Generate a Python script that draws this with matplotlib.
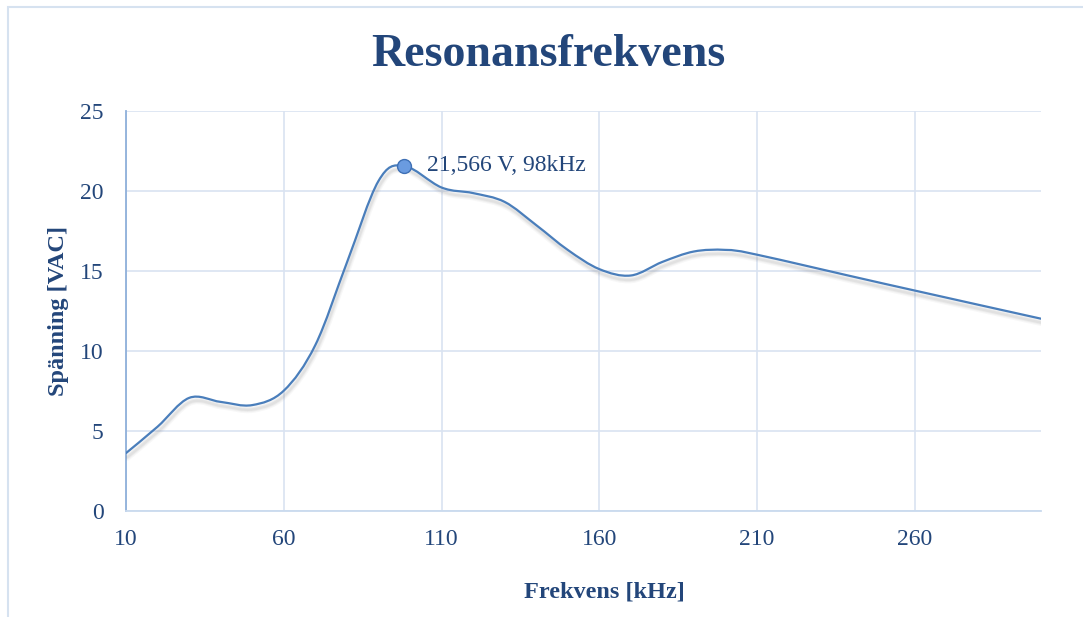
import matplotlib
matplotlib.use("Agg")
import matplotlib.pyplot as plt
import matplotlib.patheffects as pe
from matplotlib.path import Path
from matplotlib.patches import PathPatch, Rectangle

# measured voltage vs frequency
freq_khz = [10, 20, 30, 40, 50, 60, 70, 80, 90, 98, 110, 120, 130, 140,
            150, 160, 170, 180, 190, 200, 210, 250, 300]
voltage = [3.6, 5.25, 7.05, 6.8, 6.6, 7.5, 10.35, 15.5, 20.6, 21.566, 20.2,
           19.85, 19.3, 17.85, 16.3, 15.1, 14.7, 15.55, 16.2, 16.3, 16.0,
           14.2, 12.0]
peak_f, peak_v = 98, 21.566
peak_label = "21,566 V, 98kHz"
xticks = [10, 60, 110, 160, 210, 260]
yticks = [0, 5, 10, 15, 20, 25]

TXT = "#23467A"
LINE = "#4A7EBB"
GRID = "#D9E3F1"
plt.rcParams["font.family"] = ["Liberation Serif", "DejaVu Serif"]


def smooth_path(xs, ys, t=1/6):
    """Excel-style smoothed line as cubic Bezier segments."""
    verts = [(xs[0], ys[0])]
    codes = [Path.MOVETO]
    n = len(xs)
    for i in range(n - 1):
        x0, y0 = (xs[i - 1], ys[i - 1]) if i > 0 else (xs[i], ys[i])
        x1, y1 = xs[i], ys[i]
        x2, y2 = xs[i + 1], ys[i + 1]
        x3, y3 = (xs[i + 2], ys[i + 2]) if i + 2 < n else (x2, y2)
        c1 = (x1 + (x2 - x0) * t, y1 + (y2 - y0) * t)
        c2 = (x2 - (x3 - x1) * t, y2 - (y3 - y1) * t)
        verts += [c1, c2, (x2, y2)]
        codes += [Path.CURVE4] * 3
    return Path(verts, codes)


fig = plt.figure(figsize=(10.83, 6.17), dpi=100)
fig.patches.append(Rectangle((8 / 1083, -0.01), 1.1, 1 - 7 / 617 + 0.01,
                             transform=fig.transFigure, fill=False,
                             edgecolor="#D6E2F0", lw=1.5))

ax = fig.add_axes([126 / 1083, 1 - 510.7 / 617, 915 / 1083, 400 / 617])
ax.set_xlim(10, 300)
ax.set_ylim(0, 25)

# soft drop shadow under the curve
shadow = [pe.SimpleLineShadow(offset=(1, -3), shadow_color="#808080",
                              alpha=a, linewidth=w)
          for a, w in ((0.06, 5.0), (0.08, 3.2), (0.10, 1.8))]
patch = PathPatch(smooth_path(freq_khz, voltage), facecolor="none",
                  edgecolor=LINE, lw=1.6, zorder=3, capstyle="round",
                  path_effects=shadow + [pe.Normal()])
ax.add_patch(patch)

ax.plot([peak_f], [peak_v], "o", ms=10, mfc="#6A9BE0", mec="#3F70B5",
        mew=1.0, zorder=4)
ax.annotate(peak_label, (peak_f, peak_v), textcoords="offset points",
            xytext=(17, 0), va="center", ha="left", fontsize=17, color=TXT)

ax.set_xticks(xticks)
ax.set_yticks(yticks)
ax.grid(True, color=GRID, lw=1.2)
ax.set_axisbelow(True)
ax.tick_params(length=0, labelsize=17, labelcolor=TXT)
ax.tick_params(axis="y", pad=16)
ax.tick_params(axis="x", pad=13)
for s in ("top", "right"):
    ax.spines[s].set_visible(False)
ax.spines["left"].set_color("#8FB0DA")
ax.spines["left"].set_linewidth(1.3)
ax.spines["bottom"].set_color("#C9DAEE")
ax.spines["bottom"].set_linewidth(1.3)

ax.set_xlabel("Frekvens [kHz]", fontsize=17.5, fontweight="bold", color=TXT)
ax.xaxis.set_label_coords(0.523, -0.178)
ax.set_ylabel("Spänning [VAC]", fontsize=17.5, fontweight="bold", color=TXT)
ax.yaxis.set_label_coords(-0.062, 0.5)

fig.text(548 / 1083, 1 - 55 / 617, "Resonansfrekvens", ha="center",
         va="center", fontsize=33, fontweight="bold", color=TXT)

fig.savefig("out.png", dpi=100)
